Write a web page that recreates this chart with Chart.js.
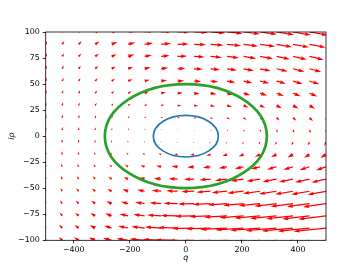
<!DOCTYPE html>
<html>
<head>
<meta charset="utf-8">
<script src="https://cdn.jsdelivr.net/npm/chart.js@4.4.0/dist/chart.umd.min.js"></script>
<style>
  html, body { margin: 0; padding: 0; background: #fff; }
</style>
</head>
<body>
<canvas id="myChart" width="362" height="271"></canvas>
<script>
// arrow grid (18 x 18)
const qGrid = [-500, -441.2, -382.4, -323.5, -264.7, -205.9, -147.1, -88.2, -29.4, 29.4, 88.2, 147.1, 205.9, 264.7, 323.5, 382.4, 441.2, 500];
const pGrid = [-100, -88.2, -76.5, -64.7, -52.9, -41.2, -29.4, -17.6, -5.9, 5.9, 17.6, 29.4, 41.2, 52.9, 64.7, 76.5, 88.2, 100];

// dq/dt read near q = 0, from p = -100 up to p = 100
const uAlongP = [-24, -21, -18, -15, -12, -9.5, -6.5, -3.7, -1.2, 1, 2.5, 4, 5.5, 7, 8.3, 10, 11.5, 13];
// dq/dt read across the columns on the row p = 88 and on the row p = -88
const uAtTop = [1.5, 2.2, 3, 4.3, 5.6, 7, 8.3, 9.6, 10.8, 11.8, 12.7, 13.5, 14.2, 14.8, 15.3, 15.7, 16, 16.3];
const uAtBottom = [-2, -3, -4, -5.5, -7.5, -10, -13, -16, -19.5, -22, -24.5, -26.5, -28, -29.5, -30.5, -31, -31.5, -32];
// dp/dt read across the columns
const vAtMid = [3.4, 3.2, 3, 2.7, 2.3, 1.9, 1.4, 0.9, 0.4, -0.4, -0.9, -1.4, -1.9, -2.3, -2.7, -3, -3.2, -3.4];

// two orbits, half widths in q and p
const orbitQ = [116, 289];
const orbitP = [20, 50];

const xTicks = [-400, -200, 0, 200, 400];
const yTicks = [-100, -75, -50, -25, 0, 25, 50, 75, 100];

const arrowScale = 1;          // px per field unit
const orbitColors = ["#1f77b4", "#2ca02c"];
const orbitWidths = [1.7, 2.7];

const gridPoints = [];
pGrid.forEach((p) => qGrid.forEach((q) => gridPoints.push({ x: q, y: p })));

function drawArrow(ctx, x0, y0, dx, dy) {
  const L = Math.hypot(dx, dy);
  if (L < 0.6) {
    ctx.beginPath();
    ctx.arc(x0, y0, 0.6, 0, 2 * Math.PI);
    ctx.fill();
    return;
  }
  const w = 1.25, hl = 5 * w, hal = 4.5 * w, hw = 3 * w;
  const Lh = Math.max(L, hl);
  const s = Math.min(1, L / hl);
  const shape = [
    [0, -w / 2], [Lh - hal, -w / 2], [Lh - hl, -hw / 2], [Lh, 0],
    [Lh - hl, hw / 2], [Lh - hal, w / 2], [0, w / 2]
  ];
  const c = dx / L, sn = dy / L;
  ctx.beginPath();
  shape.forEach(([a, b], n) => {
    const px = x0 + s * (a * c - b * sn);
    const py = y0 + s * (a * sn + b * c);
    if (n === 0) ctx.moveTo(px, py); else ctx.lineTo(px, py);
  });
  ctx.closePath();
  ctx.fill();
}

const quiverPlugin = {
  id: "quiver",
  afterDatasetsDraw(chart) {
    const { ctx, chartArea: a, scales: { x, y } } = chart;
    const pts = chart.getDatasetMeta(0).data;
    const ctrTop = (uAtTop[8] + uAtTop[9]) / 2;
    const ctrBot = (uAtBottom[8] + uAtBottom[9]) / 2;

    ctx.save();
    ctx.beginPath();
    ctx.rect(a.left, a.top, a.right - a.left, a.bottom - a.top);
    ctx.clip();

    ctx.fillStyle = "#ff0000";
    let k = 0;
    pGrid.forEach((p, j) => {
      qGrid.forEach((q, i) => {
        const pt = pts[k++];
        const gain = p > 0 ? uAtTop[i] / ctrTop : uAtBottom[i] / ctrBot;
        const u = uAlongP[j] * gain * arrowScale;
        const v = vAtMid[i] * arrowScale;
        drawArrow(ctx, pt.x, pt.y, u, -v);
      });
    });

    const cx = x.getPixelForValue(0);
    const cy = y.getPixelForValue(0);
    orbitQ.forEach((rq, n) => {
      const rx = x.getPixelForValue(rq) - cx;
      const ry = cy - y.getPixelForValue(orbitP[n]);
      ctx.beginPath();
      ctx.ellipse(cx, cy, rx, ry, 0, 0, 2 * Math.PI);
      ctx.strokeStyle = orbitColors[n];
      ctx.lineWidth = orbitWidths[n];
      ctx.stroke();
    });
    ctx.restore();

    // box around the axes
    ctx.save();
    ctx.strokeStyle = "#000";
    ctx.lineWidth = 0.8;
    ctx.strokeRect(a.left, a.top, a.right - a.left, a.bottom - a.top);
    ctx.restore();
  }
};

const minus = (v) => String(v).replace("-", "\u2212");

Chart.defaults.font.family = "'DejaVu Sans'";
Chart.defaults.font.size = 7.9;
Chart.defaults.color = "#000";

var ctx = document.getElementById("myChart");
var chart = new Chart(ctx, {
  type: "scatter",
  data: {
    datasets: [
      {
        label: "field",
        data: gridPoints,
        pointRadius: 0,
        pointHoverRadius: 0
      }
    ]
  },
  options: {
    responsive: false,
    animation: false,
    events: [],
    layout: { padding: { top: 32, right: 36, bottom: 0, left: 0 } },
    plugins: { legend: { display: false }, tooltip: { enabled: false } },
    scales: {
      x: {
        type: "linear",
        min: -500,
        max: 500,
        afterBuildTicks: (s) => { s.ticks = xTicks.map((v) => ({ value: v })); },
        afterFit: (s) => { s.height = 30.7; },
        ticks: { callback: minus, padding: 2, maxRotation: 0 },
        grid: { drawOnChartArea: false, drawTicks: true, tickLength: 3, tickColor: "#000", tickWidth: 0.8 },
        border: { display: false },
        title: { display: true, text: "q", font: { style: "italic", size: 7.9 }, padding: { top: 0, bottom: 8.8 } }
      },
      y: {
        type: "linear",
        min: -100,
        max: 100,
        afterBuildTicks: (s) => { s.ticks = yTicks.map((v) => ({ value: v })); },
        afterFit: (s) => { s.width = 45.7; },
        ticks: { callback: minus, padding: 3 },
        grid: { drawOnChartArea: false, drawTicks: true, tickLength: 3, tickColor: "#000", tickWidth: 0.8 },
        border: { display: false },
        title: { display: true, text: "ip", font: { style: "italic", size: 7.9 }, padding: { top: 6.8, bottom: 0 } }
      }
    }
  },
  plugins: [quiverPlugin]
});
</script>
</body>
</html>
